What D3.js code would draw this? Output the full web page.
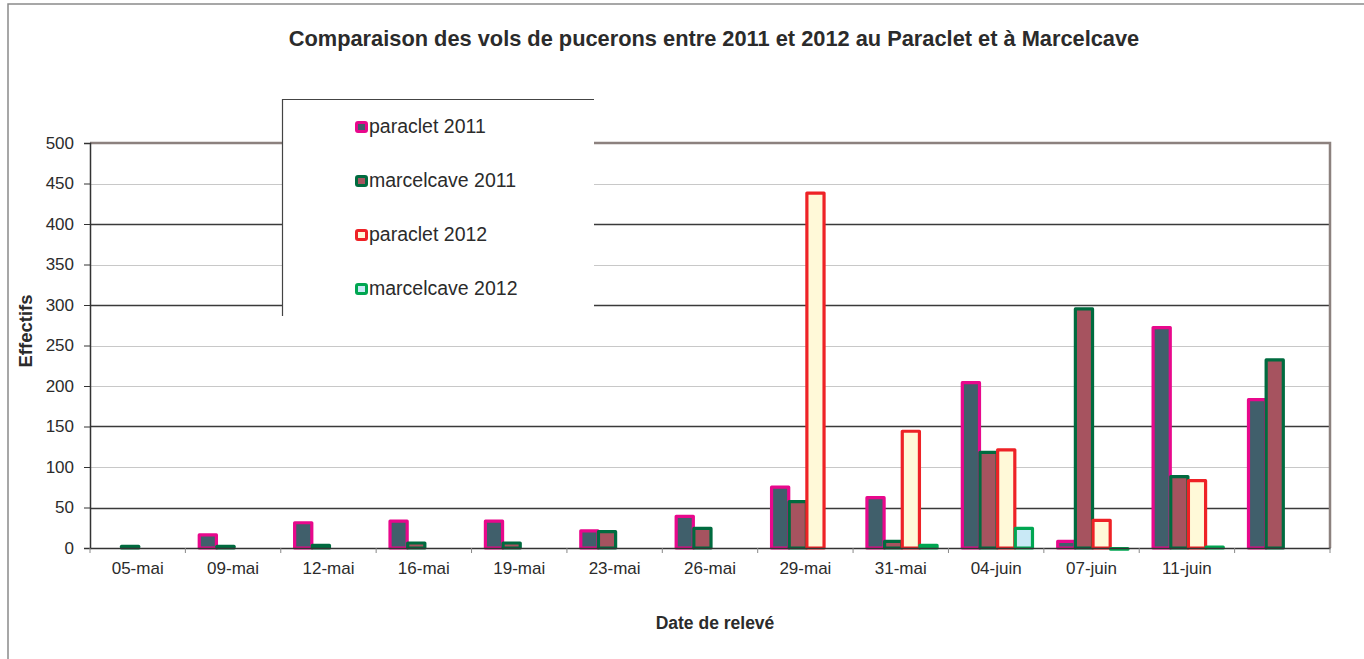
<!DOCTYPE html>
<html>
<head>
<meta charset="utf-8">
<script src="https://cdn.jsdelivr.net/npm/d3@7"></script>
<style>
    body { margin: 0; background: #fff; }
    text { font-family: "Liberation Sans", Arial, sans-serif; fill: #2b2b2b; }
</style>
</head>
<body>
<div id="chart"></div>
<script>
// data
const dates = ["05-mai", "09-mai", "12-mai", "16-mai", "19-mai", "23-mai", "26-mai",
    "29-mai", "31-mai", "04-juin", "07-juin", "11-juin", ""];
const seriesNames = ["paraclet 2011", "marcelcave 2011", "paraclet 2012", "marcelcave 2012"];
const paraclet2011 = [0, 18, 33, 35, 35, 23, 41, 77, 64, 206, 10, 274, 185];
const marcelcave2011 = [4, 4, 5, 8, 8, 22, 26, 59, 10, 120, 297, 90, 234];
const paraclet2012 = [0, 0, 0, 0, 0, 0, 0, 440, 146, 123, 36, 85, 0];
const marcelcave2012 = [0, 0, 0, 0, 0, 0, 0, 0, 5, 26, 1, 3, 0];
const yTicks = [0, 50, 100, 150, 200, 250, 300, 350, 400, 450, 500];

const fills = ["#405f6b", "#a6535f", "#fff9d8", "#c9e9f6"];
const strokes = ["#e8088c", "#006b3f", "#ee2226", "#00a651"];

const svg = {
    width: 1364,
    height: 659,
    margin: { top: 143, right: 34, bottom: 111, left: 90 }
};

const chart = d3.select("#chart")
    .append("svg")
    .attr("width", svg.width)
    .attr("height", svg.height);

const table = dates.map((d, i) => ({
    date: d,
    values: [paraclet2011[i], marcelcave2011[i], paraclet2012[i], marcelcave2012[i]]
}));

const xScale = d3.scaleBand()
    .domain(d3.range(dates.length))
    .range([svg.margin.left, svg.width - svg.margin.right]);

const xInner = d3.scaleBand()
    .domain(d3.range(seriesNames.length))
    .range([0, xScale.bandwidth()])
    .paddingOuter(0.7);

const yScale = d3.scaleLinear()
    .domain([0, 500])
    .range([svg.height - svg.margin.bottom, svg.margin.top]);

// outer frame
chart.append("path")
    .attr("d", `M8,${svg.height} V4 H${svg.width}`)
    .attr("fill", "none")
    .attr("stroke", "#8a8a8a")
    .attr("stroke-width", 1.5);

// gridlines
const darkLines = [50, 150, 300, 400];
chart.append("g")
    .attr("class", "grid")
    .selectAll("line")
    .data(yTicks.filter(d => d > 0 && d < 500))
    .join("line")
    .attr("x1", svg.margin.left)
    .attr("x2", svg.width - svg.margin.right)
    .attr("y1", d => Math.round(yScale(d)) + 0.5)
    .attr("y2", d => Math.round(yScale(d)) + 0.5)
    .attr("stroke", d => darkLines.includes(d) ? "#3a3a3a" : "#c8c8c8")
    .attr("stroke-width", d => darkLines.includes(d) ? 1.3 : 1);

// top and right border of plot area
chart.append("path")
    .attr("d", `M${svg.margin.left},${yScale(500)} H${svg.width - svg.margin.right} V${yScale(0)}`)
    .attr("fill", "none")
    .attr("stroke", "#8c817e")
    .attr("stroke-width", 2.5);

// legend box (covers gridlines)
const legend = chart.append("g").attr("class", "legend");
legend.append("rect")
    .attr("x", 282).attr("y", 99)
    .attr("width", 312).attr("height", 217)
    .attr("fill", "#fff");
legend.append("path")
    .attr("d", "M282.5,316 V99.5 H594")
    .attr("fill", "none")
    .attr("stroke", "#444")
    .attr("stroke-width", 1.2);

legend.selectAll("g.item")
    .data(seriesNames)
    .join("g")
    .attr("class", "item")
    .attr("transform", (d, i) => `translate(355, ${121 + i * 54})`)
    .each(function (d, i) {
        const g = d3.select(this);
        g.append("rect")
            .attr("x", 1.5).attr("y", 1.5)
            .attr("width", 10).attr("height", 9)
            .attr("rx", 1.5)
            .attr("fill", fills[i])
            .attr("stroke", strokes[i])
            .attr("stroke-width", 3);
        g.append("text")
            .attr("x", 14)
            .attr("y", 11.5)
            .attr("font-size", 19.5)
            .text(d);
    });

// bars
chart.append("g")
    .attr("class", "bars")
    .selectAll("g.group")
    .data(table)
    .join("g")
    .attr("class", "group")
    .attr("transform", (d, i) => `translate(${xScale(i)},0)`)
    .selectAll("rect")
    .data(d => d.values.map((v, s) => ({ v, s })).filter(e => e.v > 0))
    .join("rect")
    .attr("x", d => xInner(d.s) + 1.5)
    .attr("width", xInner.bandwidth() - 0.5)
    .attr("y", d => yScale(d.v) + 1.5)
    .attr("height", d => Math.max(0.5, yScale(0) - yScale(d.v) - 1.5))
    .attr("fill", d => fills[d.s])
    .attr("stroke", d => strokes[d.s])
    .attr("stroke-width", 3.2)
    .attr("stroke-linejoin", "round");

// axes
const yAxis = d3.axisLeft(yScale)
    .tickValues(yTicks)
    .tickSize(6)
    .tickPadding(10);

const yG = chart.append("g")
    .attr("class", "axis y")
    .attr("transform", `translate(${svg.margin.left},0)`)
    .call(yAxis);
yG.select(".domain").attr("stroke", "#333").attr("stroke-width", 1.5);
yG.selectAll(".tick line").attr("stroke", "#333");
yG.selectAll(".tick text")
    .attr("font-size", 17)
    .attr("font-family", null)
    .attr("fill", "#2b2b2b");

const xAxis = d3.axisBottom(xScale)
    .tickSize(0)
    .tickPadding(14)
    .tickFormat(i => dates[i]);

const xG = chart.append("g")
    .attr("class", "axis x")
    .attr("transform", `translate(0, ${yScale(0)})`)
    .call(xAxis);
xG.select(".domain").attr("stroke", "#333").attr("stroke-width", 1.5);
xG.selectAll(".tick text")
    .attr("font-size", 17)
    .attr("font-family", null)
    .attr("fill", "#2b2b2b");

// category separators
xG.selectAll("line.sep")
    .data(d3.range(dates.length + 1))
    .join("line")
    .attr("class", "sep")
    .attr("x1", i => i < dates.length ? xScale(i) : svg.width - svg.margin.right)
    .attr("x2", i => i < dates.length ? xScale(i) : svg.width - svg.margin.right)
    .attr("y1", 0)
    .attr("y2", 5)
    .attr("stroke", "#888");

// titles
chart.append("text")
    .attr("x", 714)
    .attr("y", 46)
    .attr("text-anchor", "middle")
    .attr("font-size", 21.8)
    .attr("font-weight", "bold")
    .text("Comparaison des vols de pucerons entre 2011 et 2012 au Paraclet et à Marcelcave");

chart.append("text")
    .attr("x", 715)
    .attr("y", 629)
    .attr("text-anchor", "middle")
    .attr("font-size", 17.5)
    .attr("font-weight", "bold")
    .text("Date de relevé");

chart.append("text")
    .attr("transform", "translate(32, 331) rotate(-90)")
    .attr("text-anchor", "middle")
    .attr("font-size", 18.5)
    .attr("font-weight", "bold")
    .text("Effectifs");
</script>
</body>
</html>
